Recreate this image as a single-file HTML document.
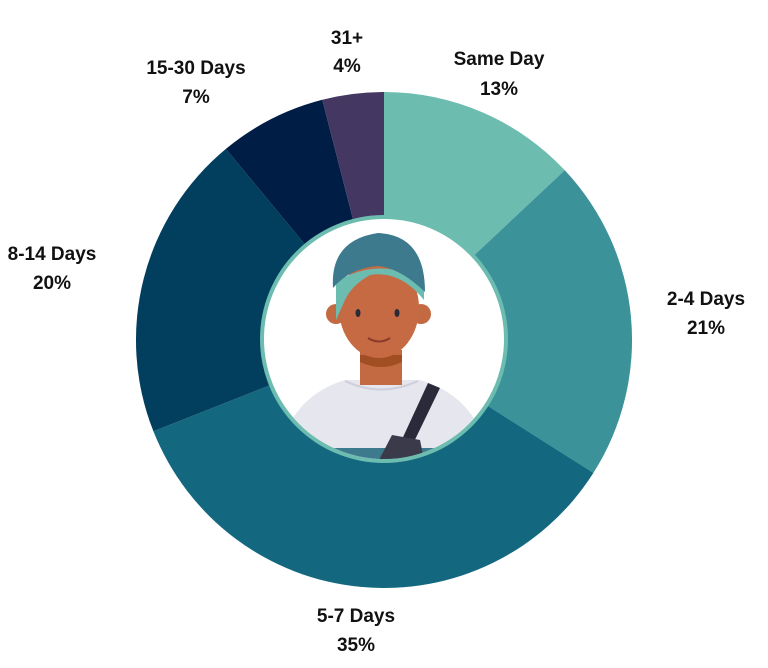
<!DOCTYPE html>
<html><head><meta charset="utf-8"><style>
html,body{margin:0;padding:0;background:#fff;width:768px;height:668px;overflow:hidden}
text{font-family:"Liberation Sans",sans-serif;font-weight:bold;font-size:19px;fill:#111;text-anchor:middle}
</style></head><body>
<svg width="768" height="668" viewBox="0 0 768 668" xmlns="http://www.w3.org/2000/svg">
<defs><clipPath id="c"><circle cx="384" cy="339" r="120"/></clipPath></defs>
<path d="M384,340 L384,92 A248,248 0 0 1 564.8,170.2 Z" fill="#6dbcb0"/>
<path d="M384,340 L564.8,170.2 A248,248 0 0 1 593.4,472.9 Z" fill="#3c9299"/>
<path d="M384,340 L593.4,472.9 A248,248 0 0 1 153.4,431.3 Z" fill="#136880"/>
<path d="M384,340 L153.4,431.3 A248,248 0 0 1 225.9,148.9 Z" fill="#023e5e"/>
<path d="M384,340 L225.9,148.9 A248,248 0 0 1 322.3,99.8 Z" fill="#001d45"/>
<path d="M384,340 L322.3,99.8 A248,248 0 0 1 384,92 Z" fill="#443862"/>
<circle cx="384" cy="339" r="124" fill="#6dbcb0"/>
<circle cx="384" cy="339" r="120" fill="#fff"/>
<g clip-path="url(#c)">
<path d="M275,470 Q285,398 345,380 L420,380 Q482,398 492,470 Z" fill="#e6e6ee"/>
<rect x="300" y="448" width="170" height="20" fill="#3d7a8e"/>
<rect x="360" y="350" width="42" height="35" fill="#c36a42"/>
<path d="M360,355 L402,355 L402,362 Q381,372 360,362 Z" fill="#a14f22"/>
<path d="M345,381 Q381,398 418,381" stroke="#cfcfdc" stroke-width="2" fill="none"/>
<circle cx="336" cy="314" r="10" fill="#c36a42"/>
<circle cx="421" cy="314" r="10" fill="#c36a42"/>
<ellipse cx="379" cy="308" rx="40" ry="50" fill="#c56a42"/>
<path d="M336,320 L336,282 Q380,255 424,282 L424,300 Q400,270 370,275 Q352,285 345,300 Z" fill="#6dbcb0"/>
<path d="M333,288 Q330,240 378,233 Q425,235 425,292 Q400,268 378,266 Q350,268 333,288 Z" fill="#3d7a8e"/>
<ellipse cx="358" cy="313" rx="2.5" ry="4" fill="#2a2a3a"/>
<ellipse cx="397" cy="313" rx="2.5" ry="4" fill="#2a2a3a"/>
<path d="M368,338 Q379,345 390,338" stroke="#8a3a2a" stroke-width="2" fill="none"/>
<path d="M428,383 L440,388 L410,450 L398,448 Z" fill="#2a2a3a"/>
<path d="M378,462 L392,435 L420,440 L425,465 Z" fill="#3a3a4a"/>
</g>
<text x="347" y="44">31+</text><text x="347" y="72">4%</text>
<text x="196" y="74">15-30 Days</text><text x="196" y="103">7%</text>
<text x="499" y="65">Same Day</text><text x="499" y="95">13%</text>
<text x="706" y="305">2-4 Days</text><text x="706" y="334">21%</text>
<text x="52" y="260">8-14 Days</text><text x="52" y="289">20%</text>
<text x="356" y="622">5-7 Days</text><text x="356" y="651">35%</text>
</svg>
</body></html>
